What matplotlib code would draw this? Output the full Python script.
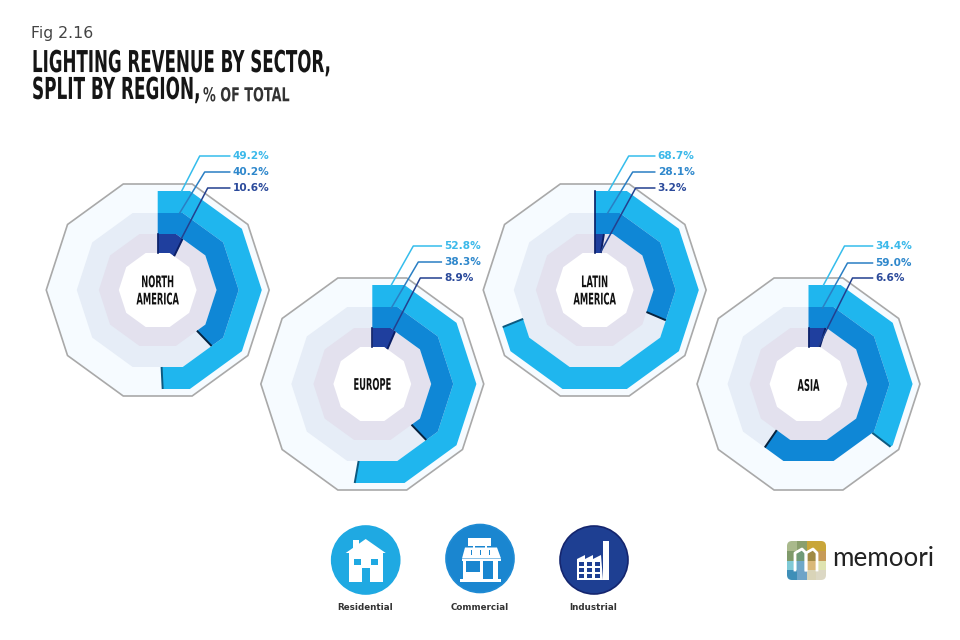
import numpy as np
import matplotlib
matplotlib.use('Agg')
import matplotlib.pyplot as plt
from matplotlib.patches import Polygon, Circle, Rectangle, FancyBboxPatch
from matplotlib.patheffects import AbstractPathEffect
from matplotlib.transforms import Affine2D

# data
regions = ['NORTH\nAMERICA', 'EUROPE', 'LATIN\nAMERICA', 'ASIA']
residential = [49.2, 52.8, 68.7, 34.4]
commercial = [40.2, 38.3, 28.1, 59.0]
industrial = [10.6, 8.9, 3.2, 6.6]
sectors = ['Residential', 'Commercial', 'Industrial']

# the bands in the picture do not quite follow the printed numbers, these are read off the bands
residential_drawn = [49.2, 52.8, 68.9, 35.4]
commercial_drawn = [37.8, 37.8, 31.4, 59.6]
industrial_drawn = [7.2, 6.5, 2.6, 4.7]

# layout, in pixels of the 960x640 picture
centers = [(157.7, 290), (372.3, 384), (594.7, 290), (808.5, 384)]
label_y = [(-134, -118, -102), (-138, -122, -106), (-134, -118, -102), (-138, -121, -106)]
line_end = [72, 69, 60, 64]
elbows = [[(42, -134), (47, -118), (50, -102)],
          [(41, -138), (46, -122), (48, -106)],
          [(34, -134), (38, -118), (41, -102)],
          [(36, -138), (39, -121), (44, -106)]]
starts = [[(24, -99), (22, -77), (24, -52)],
          [(19, -99), (19, -76), (21, -54)],
          [(14, -99), (13, -77), (6, -38)],
          [(15, -99), (14, -76), (10, -38)]]

RES, COM, IND = '#1fb6ee', '#0f87d6', '#1f3f9e'
TEXT_COLS = ['#3bb9ea', '#2f88cc', '#2b4a9b']
LINE_COLS = ['#35bdec', '#2a7fc4', '#23408f']
SHADOW = ['#0c5a80', '#06233f', '#0b1f66']
NARROW = 'Liberation Sans Narrow'

fig = plt.figure(figsize=(9.6, 6.4), dpi=100)
ax = fig.add_axes([0, 0, 1, 1])
ax.set_xlim(0, 960)
ax.set_ylim(640, 0)
ax.axis('off')


class StretchY(AbstractPathEffect):
    # the font is not narrow enough, so set it small and pull the glyphs taller
    def __init__(self, y0, sy):
        super().__init__()
        self.y0, self.sy = y0, sy

    def draw_path(self, renderer, gc, tpath, affine, rgbFace=None):
        stretch = Affine2D().translate(0, -self.y0).scale(1, self.sy).translate(0, self.y0)
        renderer.draw_path(gc, tpath, affine + stretch, rgbFace)


def narrow_text(x, y, s, size, sy, **kw):
    t = ax.text(x, y, s, fontsize=size, family=[NARROW, 'DejaVu Sans'], fontweight='bold', va='center', **kw)
    t.set_path_effects([StretchY(640 - y, sy)])
    return t


def point(cx, cy, apothem, theta):
    # clock angle in degrees on a decagon with a flat top
    d = (theta + 18) % 36 - 18
    r = apothem / np.cos(np.radians(d))
    return cx + r * np.sin(np.radians(theta)), cy - r * np.cos(np.radians(theta))


def corners(end):
    mid = [a for a in np.arange(18, 360, 36) if a < end]
    return [0] + mid + [end]


def band(cx, cy, a_in, a_out, pct, color):
    end = pct * 3.6
    th = corners(end)
    pts = [point(cx, cy, a_out, t) for t in th] + [point(cx, cy, a_in, t) for t in th[::-1]]
    ax.add_patch(Polygon(pts, closed=True, fc=color, ec='none', zorder=3))
    return end


def decagon(cx, cy, apothem, **kw):
    pts = [point(cx, cy, apothem, t) for t in np.arange(18, 360, 36)]
    ax.add_patch(Polygon(pts, closed=True, **kw))


rings = [(77, 99, RES), (56, 77, COM), (37, 56, IND)]
for i, (cx, cy) in enumerate(centers):
    decagon(cx, cy, 106, fc='#f6fbff', ec='#a9a9a9', lw=1.2, zorder=1)
    decagon(cx, cy, 77, fc='#e6edf7', ec='none', zorder=1)
    decagon(cx, cy, 56, fc='#e3e1ee', ec='none', zorder=1)
    decagon(cx, cy, 37, fc='white', ec='none', zorder=1)

    vals = [residential[i], commercial[i], industrial[i]]
    drawn = [residential_drawn[i], commercial_drawn[i], industrial_drawn[i]]
    for k, (a_in, a_out, col) in enumerate(rings):
        end = band(cx, cy, a_in, a_out, drawn[k], col)
        p0, p1 = point(cx, cy, a_in, end), point(cx, cy, a_out, end)
        ax.plot([p0[0], p1[0]], [p0[1], p1[1]], color=SHADOW[k], lw=1.4, zorder=4, solid_capstyle='butt')
    # dark start edge of the inner band, longer on the thin latin america one
    top = 99 if i == 2 else 56
    ax.plot([cx, cx], [cy - 37, cy - top], color='#0b1f66', lw=1.2, zorder=4)

    narrow_text(cx, cy + (1 if i < 3 else 2), regions[i], 6.0, 1.92, ha='center', color='#111111',
                linespacing=1.0, multialignment='center', zorder=5)

    # leaders and values
    for k in range(3):
        sx, sy = starts[i][k]
        ex, ey = elbows[i][k]
        ax.plot([cx + sx, cx + ex, cx + line_end[i]], [cy + sy, cy + ey, cy + ey],
                color=LINE_COLS[k], lw=1.1, zorder=6)
        ax.text(cx + line_end[i] + 3, cy + label_y[i][k], '%.1f%%' % vals[k], color=TEXT_COLS[k],
                fontsize=7.6, fontweight='bold', va='center', ha='left', zorder=6)

# title
ax.text(31, 33.5, 'Fig 2.16', fontsize=11.3, color='#444444', va='center', ha='left')
narrow_text(32, 63, 'LIGHTING REVENUE BY SECTOR,', 12.0, 1.81, ha='left', color='#151515')
narrow_text(32, 90, 'SPLIT BY REGION,', 12.15, 1.79, ha='left', color='#151515')
narrow_text(203, 96, '% OF TOTAL', 9.2, 1.5, ha='left', color='#333333')

# sector icons
icon_centers = [(365.7, 560), (480, 558.5), (594, 560)]
icon_cols = ['#1fa9e2', '#1a86d0', '#1e3f92']
icon_edges = ['#1fa9e2', '#1f8bd4', '#14256e']
for (x, y), c, e, name in zip(icon_centers, icon_cols, icon_edges, sectors):
    ax.add_patch(Circle((x, y), 34, fc=c, ec=e, lw=1.2, zorder=2))
    ax.text(x - 0.5, 607, name, fontsize=6.3, fontweight='bold', color='#333333', ha='center', va='center')


def rect(x0, y0, x1, y1, color, z=3):
    ax.add_patch(Rectangle((x0, y0), x1 - x0, y1 - y0, fc=color, ec='none', zorder=z))


# house
x, y = icon_centers[0]
rect(x - 13, y - 20, x - 7, y - 10, 'white')
ax.add_patch(Polygon([(x - 20, y - 7), (x, y - 21), (x + 20, y - 7)], fc='white', ec='none', zorder=3))
rect(x - 17, y - 7, x + 17, y + 22, 'white')
rect(x - 12, y - 1, x - 5, y + 5, icon_cols[0], 4)
rect(x + 5, y - 1, x + 12, y + 5, icon_cols[0], 4)
rect(x - 4, y + 8, x + 4, y + 22, icon_cols[0], 4)

# shop
x, y = icon_centers[1]
rect(x - 12, y - 21, x + 11, y - 13, 'white')
rect(x - 7, y - 13, x - 5, y - 10, 'white')
rect(x + 5, y - 13, x + 7, y - 10, 'white')
ax.add_patch(Polygon([(x - 18, y), (x - 15, y - 11), (x + 17, y - 11), (x + 21, y)], fc='white', ec='none', zorder=3))
for dx in (-9, 0, 9):
    rect(x + dx, y - 9, x + dx + 1, y - 4, icon_cols[1], 4)
rect(x - 18, y, x + 21, y + 2, 'white')
rect(x - 17, y + 2, x + 18, y + 20, 'white')
rect(x - 14, y + 2, x + 0, y + 13, icon_cols[1], 4)
rect(x + 3, y + 2, x + 13, y + 20, icon_cols[1], 4)
rect(x - 20, y + 20, x + 21, y + 23, 'white')

# factory
x, y = icon_centers[2]
rect(x + 9, y - 19, x + 15, y + 20, 'white')
ax.add_patch(Polygon([(x - 17, y + 20), (x - 17, y - 1), (x - 9, y - 5), (x - 9, y - 1), (x - 1, y - 5), (x - 1, y - 1),
                      (x + 7, y - 5), (x + 9, y + 20)], fc='white', ec='none', zorder=3))
for row in range(3):
    for col in range(3):
        rect(x - 15 + col * 8, y + 2 + row * 5.8, x - 10 + col * 8, y + 6 + row * 5.8, icon_cols[2], 4)

# memoori logo
logo_cols = [['#a9b98c', '#8a9f6d', '#c9a63a', '#c9a63a'],
             ['#7f9a6a', '#6f9a78', '#a08a45', '#c79b58'],
             ['#7fcad6', '#6fa8c8', '#d9b878', '#dfe3b0'],
             ['#3f8fb8', '#6fa4c8', '#d9d4b8', '#dcd8c4']]
clip = FancyBboxPatch((790, 544), 33, 33, boxstyle='round,pad=3,rounding_size=5', fc='none', ec='none',
                      transform=ax.transData)
ax.add_patch(clip)
for r in range(4):
    for c in range(4):
        cell = Rectangle((787 + c * 9.8, 541 + r * 9.8), 9.8, 9.8, fc=logo_cols[r][c], ec='none', zorder=2)
        ax.add_patch(cell)
        cell.set_clip_path(clip)
ax.plot([795, 795, 802, 806, 806], [570, 553, 549, 553, 570], color='white', lw=2, zorder=3)
ax.plot([806, 806, 813, 817, 817], [570, 553, 549, 553, 570], color='white', lw=2, zorder=3)
ax.text(832, 559, 'memoori', fontsize=18.7, family='Lato', color='#222222', va='center', ha='left')

fig.savefig('out.png', dpi=100, facecolor='white')
